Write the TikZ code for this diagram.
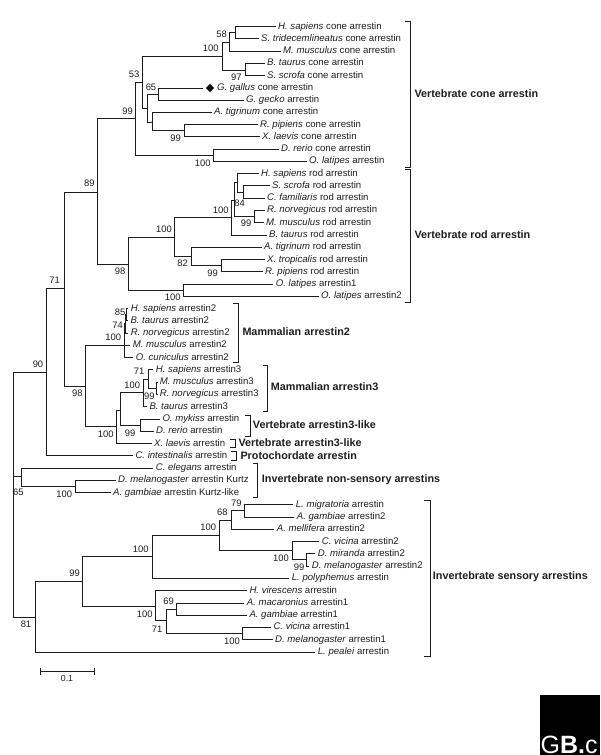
\documentclass[tikz,border=0pt]{standalone}
\usepackage{fontspec}
\setmainfont{Liberation Sans}
\usetikzlibrary{positioning,arrows.meta,shapes.geometric}
\definecolor{treeInk}{RGB}{30,30,30}
\tikzset{
  leaf/.style={anchor=west, inner xsep=2.5pt, inner ysep=0pt, text height=7pt, text depth=2pt, font=\fontsize{9.6}{10}\selectfont, text=treeInk},
  boot/.style={inner sep=0pt, font=\fontsize{9.4}{10}\selectfont, text=treeInk},
  branch/.style={draw=treeInk, line width=0.9pt},
  clade/.style={draw=treeInk, line width=0.9pt},
  cladename/.style={anchor=west, inner sep=0pt, font=\fontsize{10.8}{12}\selectfont\bfseries, text=treeInk}
}
\begin{document}
\begin{tikzpicture}[x=1pt,y=-1pt]
  \useasboundingbox[fill=white] (0,0) rectangle (600,755);

  % Internal nodes of the tree
  \foreach \nm/\nx/\ny in {
    root/13/476, vert/46/372, invns/21/476, invs/35/617, verta/64/288, visual/97/192,
    cone/135.7/118, coneA/142/82, coneB/213.5/155, coneC/222/56, coneD/147.5/108,
    coneE/229.5/42, coneF/245/70, coneG/235/32.5, coneH/158.5/94, coneI/152/122, coneJ/184/130.5,
    rod/128/264, rodA/174.7/237, rodB/183/290, rodC/231/217.7, rodD/191.7/256, rodE/234/200,
    rodF/237/182.7, rodG/254.3/216, rodH/243/192, rodI/221/265.7,
    arr/85/386, arrA/124/345, arrB/116/426, arrC/120/410, arrD/143.3/392, arrE/140/425,
    arrF/148.3/379, arrG/156.7/388, mamA/124.8/333, mamB/125.5/323, mamC/126.5/314,
    invk/75/486, invsA/82.7/581.7, invsB/152.7/556.7, invsC/155.7/606, invsD/219/535,
    invsE/231/520, invsF/292.7/550.7, invsG/244.7/510.7, invsH/306/559,
    invsI/166/620.7, invsJ/176.7/609, invsK/242/633.3} {
    \coordinate (\nm) at (\nx,\ny);
  }

  % Leaves, one row each
  \foreach \nm/\lx/\spc/\txt [count=\row from 0] in {
    hsCone/278/H. sapiens/cone arrestin,
    stCone/261/S. tridecemlineatus/cone arrestin,
    mmCone/283/M. musculus/cone arrestin,
    btCone/267/B. taurus/cone arrestin,
    ssCone/267/S. scrofa/cone arrestin,
    ggCone/217/G. gallus/cone arrestin,
    geCone/246/G. gecko/arrestin,
    atCone/214/A. tigrinum/cone arrestin,
    rpCone/260/R. pipiens/cone arrestin,
    xlCone/262/X. laevis/cone arrestin,
    drCone/281/D. rerio/cone arrestin,
    olCone/309/O. latipes/arrestin,
    hsRod/261/H. sapiens/rod arrestin,
    ssRod/272/S. scrofa/rod arrestin,
    cfRod/267/C. familiaris/rod arrestin,
    rnRod/267/R. norvegicus/rod arrestin,
    mmRod/266/M. musculus/rod arrestin,
    btRod/269/B. taurus/rod arrestin,
    atRod/264/A. tigrinum/rod arrestin,
    xtRod/267/X. tropicalis/rod arrestin,
    rpRod/265/R. pipiens/rod arrestin,
    olOne/275.7/O. latipes/arrestin1,
    olTwo/321/O. latipes/arrestin2,
    hsTwo/130.7/H. sapiens/arrestin2,
    btTwo/130.3/B. taurus/arrestin2,
    rnTwo/130.7/R. norvegicus/arrestin2,
    mmTwo/132.7/M. musculus/arrestin2,
    ocTwo/135.7/O. cuniculus/arrestin2,
    hsThree/155.7/H. sapiens/arrestin3,
    mmThree/159.7/M. musculus/arrestin3,
    rnThree/159.7/R. norvegicus/arrestin3,
    btThree/149.3/B. taurus/arrestin3,
    omArr/162.3/O. mykiss/arrestin,
    drArr/156/D. rerio/arrestin,
    xlArr/154/X. laevis/arrestin,
    ciArr/135.3/C. intestinalis/arrestin,
    ceArr/155.7/C. elegans/arrestin,
    dmKurtz/118/D. melanogaster/arrestin Kurtz,
    agKurtz/113/A. gambiae/arrestin Kurtz-like,
    lmArr/295.7/L. migratoria/arrestin,
    agTwo/296.7/A. gambiae/arrestin2,
    amTwo/276.7/A. mellifera/arrestin2,
    cvTwo/321.7/C. vicina/arrestin2,
    dmiTwo/317.7/D. miranda/arrestin2,
    dmTwo/311.7/D. melanogaster/arrestin2,
    lpArr/291.7/L. polyphemus/arrestin,
    hvArr/249.3/H. virescens/arrestin,
    amaOne/246.7/A. macaronius/arrestin1,
    agOne/249.3/A. gambiae/arrestin1,
    cvOne/273.3/C. vicina/arrestin1,
    dmOne/275/D. melanogaster/arrestin1,
    lpeArr/317.7/L. pealei/arrestin} {
    \node[leaf] (\nm) at (\lx-2.5,26.5+12.265*\row) {\textit{\spc} \txt};
  }

  % Marked sequence
  \node[diamond, fill=black, inner sep=0pt, minimum size=8.5pt] (ggMark) at (210,88) {};
  \draw[branch, shorten >=3pt] (coneH) |- (ggMark);

  % Branches
  \foreach \a/\b in {
    root/vert, root/invns, root/invs, vert/verta, vert/ciArr, verta/visual, verta/arr,
    visual/cone, visual/rod, cone/coneA, cone/coneB, coneA/coneC, coneA/coneD,
    coneC/coneE, coneC/coneF, coneE/coneG, coneE/mmCone, coneG/hsCone, coneG/stCone,
    coneF/btCone, coneF/ssCone, coneD/coneH, coneD/coneI, coneH/geCone,
    coneI/atCone, coneI/coneJ, coneJ/rpCone, coneJ/xlCone, coneB/drCone, coneB/olCone,
    rod/rodA, rod/rodB, rodA/rodC, rodA/rodD, rodC/rodE, rodC/btRod, rodE/rodF, rodE/rodG,
    rodF/hsRod, rodF/rodH, rodH/ssRod, rodH/cfRod, rodG/rnRod, rodG/mmRod,
    rodD/atRod, rodD/rodI, rodI/xtRod, rodI/rpRod, rodB/olOne, rodB/olTwo,
    arr/arrA, arr/arrB, arrA/mamA, arrA/ocTwo, mamA/mamB, mamA/mmTwo, mamB/mamC, mamB/rnTwo,
    mamC/hsTwo, mamC/btTwo, arrB/arrC, arrB/xlArr, arrC/arrD, arrC/arrE, arrD/arrF, arrD/btThree,
    arrF/hsThree, arrF/arrG, arrG/mmThree, arrG/rnThree, arrE/omArr, arrE/drArr,
    invns/ceArr, invns/invk, invk/dmKurtz, invk/agKurtz,
    invs/invsA, invs/lpeArr, invsA/invsB, invsA/invsC, invsB/invsD, invsB/lpArr,
    invsD/invsE, invsD/invsF, invsE/invsG, invsE/amTwo, invsG/lmArr, invsG/agTwo,
    invsF/cvTwo, invsF/invsH, invsH/dmiTwo, invsH/dmTwo, invsC/hvArr, invsC/invsI,
    invsI/invsJ, invsI/invsK, invsJ/amaOne, invsJ/agOne, invsK/cvOne, invsK/dmOne} {
    \draw[branch] (\a) |- (\b);
  }

  % Bootstrap values
  \foreach \bx/\by/\val [count=\k] in {
    221.7/34/58, 210.7/48.3/100, 236.3/77.3/97, 134/74/53, 151/87.3/65, 127.7/111/99,
    175.7/138.3/99, 202.7/163.7/100, 89.3/183.7/89, 220.7/210.3/100, 239.7/203.3/84,
    246/223.7/99, 164/229.3/100, 182.7/263.7/82, 212.7/273.7/99, 120/271.7/98,
    172.7/297.3/100, 54.7/280.7/71, 120/312.3/85, 117.7/325.7/74, 113.3/337.7/100,
    139/371.7/71, 132.3/385/100, 149.3/396/99, 77.3/393.3/98, 105.7/434.3/100,
    130/433.3/99, 38/364.3/90, 18.3/492.3/65, 64.3/494/100, 236.3/503.3/79,
    222.3/512.3/68, 208.3/527.3/100, 281/558.7/100, 140.7/549/100, 74.7/573.7/99,
    299/567/99, 144.7/614/100, 168.7/601.3/69, 157/629/71, 232/641/100, 26/624.7/81} {
    \node[boot] (boot\k) at (\bx,\by) {\val};
  }

  % Clade brackets and their names
  \foreach \tk/\bx/\bt/\bb/\tx/\ty/\ttl [count=\k] in {
    405.3/410.7/21.7/167.3/414.3/93.3/Vertebrate cone arrestin,
    405.3/410.7/169.3/302.3/414.3/234.3/Vertebrate rod arrestin,
    233.3/238/303.3/362.7/242.3/331.3/Mammalian arrestin2,
    262.7/267.3/365.7/411.7/270.7/386.7/Mammalian arrestin3,
    245/250.3/415/436/252.7/424.3/Vertebrate arrestin3-like,
    230/235/439.3/447.7/238.3/442.7/Vertebrate arrestin3-like,
    230.7/236.7/451/460/240.3/456/Protochordate arrestin,
    252.7/257.7/463.3/497.3/261.7/479.3/Invertebrate non-sensory arrestins,
    424.3/430/500.7/656/432.7/576.7/Invertebrate sensory arrestins} {
    \draw[clade] (\tk,\bt) -- (\bx,\bt) -- (\bx,\bb) -- (\tk,\bb);
    \node[cladename] (clade\k) at (\tx,\ty) {\ttl};
  }

  % Scale bar
  \coordinate (barL) at (40.3,671);
  \coordinate (barR) at (95,671);
  \draw[branch, {Bar[width=7pt]}-{Bar[width=7pt]}] (barL) -- (barR);
  \node[boot, font=\fontsize{8.8}{10}\selectfont] (barText) at (67,678.7) {0.1};

  % Logo
  \fill[black] (540,695) rectangle (600,755);
  \node[anchor=base west, inner sep=0pt, text=white, font=\fontsize{25}{25}\selectfont] (logo) at (540.5,753) {G\textbf{B.}c};
\end{tikzpicture}
\end{document}
